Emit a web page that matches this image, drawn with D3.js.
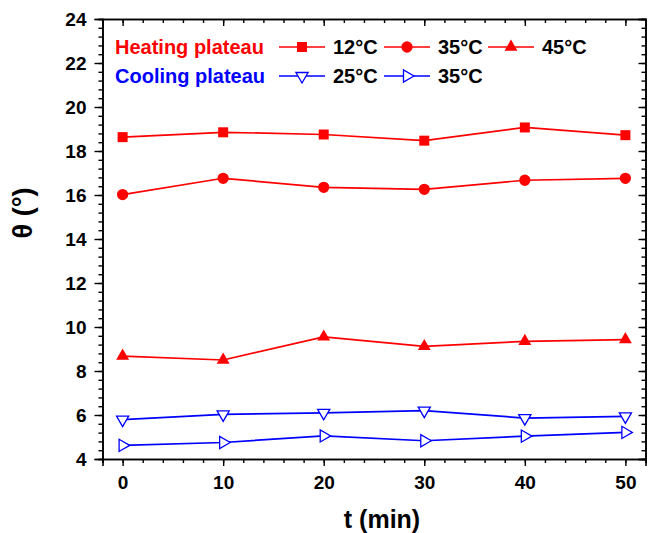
<!DOCTYPE html>
<html><head><meta charset="utf-8">
<script src="https://cdn.jsdelivr.net/npm/d3@7"></script>
<style>body{margin:0;background:#fff}svg{display:block}text{font-family:Arial,"Liberation Sans",sans-serif;font-weight:bold}</style>
</head><body><svg id="c" width="648" height="533"></svg>
<script>
const times = [0, 10, 20, 30, 40, 50];
const heat12 = [18.63, 18.85, 18.75, 18.47, 19.07, 18.72];
const heat35 = [16.02, 16.76, 16.35, 16.26, 16.67, 16.76];
const heat45 = [8.68, 8.5, 9.55, 9.12, 9.35, 9.43];
const cool25 = [5.79, 6.03, 6.1, 6.2, 5.86, 5.94];
const cool35 = [4.62, 4.75, 5.05, 4.83, 5.04, 5.21];
const xTicks = [0, 10, 20, 30, 40, 50];
const yTicks = [4, 6, 8, 10, 12, 14, 16, 18, 20, 22, 24];
const legendLabels = ["12°C", "35°C", "45°C", "25°C", "35°C"];

const RED = "#ff0000", BLUE = "#0000ff";
const svg = d3.select("#c");
const L = 102.5, R = 645.5, T = 19, B = 459;
const x = d3.scaleLinear().domain([-2, 52]).range([L, R]);
const y = d3.scaleLinear().domain([4, 24]).range([B, T]);

const series = [
  {vals: heat12, color: RED, sym: d3.symbolSquare, size: 100, rot: 0, fill: true},
  {vals: heat35, color: RED, sym: d3.symbolCircle, size: 100, rot: 0, fill: true},
  {vals: heat45, color: RED, sym: d3.symbolTriangle, size: 72, rot: 0, fill: true},
  {vals: cool25, color: BLUE, sym: d3.symbolTriangle, size: 64, rot: 180, fill: false},
  {vals: cool35, color: BLUE, sym: d3.symbolTriangle, size: 64, rot: 90, fill: false}
];

// axes
const minorX = d3.range(-2, 53, 2);
const minorY = d3.range(4, 24.01, 0.4).map(v => +v.toFixed(1));
const gx = svg.append("g").attr("transform", `translate(0,${B})`)
  .call(d3.axisBottom(x).tickValues(minorX).tickSize(4).tickFormat(""));
const gx2 = svg.append("g").attr("transform", `translate(0,${B})`)
  .call(d3.axisBottom(x).tickValues(xTicks).tickSize(7).tickPadding(10).tickFormat(d3.format("d")));
const gxt = svg.append("g").attr("transform", `translate(0,${T})`)
  .call(d3.axisTop(x).tickValues(minorX).tickSize(-4).tickFormat(""));
const gxt2 = svg.append("g").attr("transform", `translate(0,${T})`)
  .call(d3.axisTop(x).tickValues(xTicks).tickSize(-7).tickFormat(""));
const gy = svg.append("g").attr("transform", `translate(${L},0)`)
  .call(d3.axisLeft(y).tickValues(minorY).tickSize(4).tickFormat(""));
const gy2 = svg.append("g").attr("transform", `translate(${L},0)`)
  .call(d3.axisLeft(y).tickValues(yTicks).tickSize(8).tickPadding(8).tickFormat(d3.format("d")));
const gyr = svg.append("g").attr("transform", `translate(${R},0)`)
  .call(d3.axisRight(y).tickValues(minorY).tickSize(-4).tickFormat(""));
const gyr2 = svg.append("g").attr("transform", `translate(${R},0)`)
  .call(d3.axisRight(y).tickValues(yTicks).tickSize(-7).tickFormat(""));
[gx, gx2, gxt, gxt2, gy, gy2, gyr, gyr2].forEach(g => {
  g.selectAll(".domain").attr("stroke", "#000").attr("stroke-width", 1.6);
  g.selectAll(".tick line").attr("stroke", "#000").attr("stroke-width", 1.4);
  g.selectAll("text").attr("font-size", 19).attr("font-weight", "bold").attr("fill", "#000")
    .attr("font-family", "Arial, 'Liberation Sans', sans-serif");
});
gy2.selectAll("text").attr("dy", "0.36em");

// axis titles
svg.append("text").attr("x", 382).attr("y", 528).attr("text-anchor", "middle")
  .attr("font-size", 25).text("t (min)");
svg.append("text").attr("transform", "translate(32,213) rotate(-90)").attr("text-anchor", "middle")
  .attr("font-size", 27).text("θ (°)");

// series
const line = d3.line().x((d, i) => x(times[i])).y(d => y(d));
series.forEach(s => {
  svg.append("path").attr("d", line(s.vals)).attr("fill", "none")
    .attr("stroke", s.color).attr("stroke-width", 1.7);
  svg.selectAll(null).data(s.vals).enter().append("path")
    .attr("d", d3.symbol().type(s.sym).size(s.size))
    .attr("transform", (d, i) => `translate(${x(times[i])},${y(d)}) rotate(${s.rot})`)
    .attr("fill", s.fill ? s.color : "#fff").attr("stroke", s.color)
    .attr("stroke-width", s.fill ? 0 : 1.3);
});

// legend
svg.append("text").attr("x", 115).attr("y", 54).attr("fill", RED).attr("font-size", 20).text("Heating plateau");
svg.append("text").attr("x", 115).attr("y", 83).attr("fill", BLUE).attr("font-size", 20).text("Cooling plateau");
const legPos = [
  {s: 0, x0: 279, row: 0}, {s: 1, x0: 384, row: 0}, {s: 2, x0: 488, row: 0},
  {s: 3, x0: 279, row: 1}, {s: 4, x0: 384, row: 1}
];
legPos.forEach((p, k) => {
  const s = series[p.s];
  const cy = p.row === 0 ? 47 : 76;
  svg.append("line").attr("x1", p.x0).attr("x2", p.x0 + 46).attr("y1", cy).attr("y2", cy)
    .attr("stroke", s.color).attr("stroke-width", 1.7);
  svg.append("path").attr("d", d3.symbol().type(s.sym).size(s.size))
    .attr("transform", `translate(${p.x0 + 23},${cy}) rotate(${s.rot})`)
    .attr("fill", s.fill ? s.color : "#fff").attr("stroke", s.color).attr("stroke-width", s.fill ? 0 : 1.3);
  svg.append("text").attr("x", p.x0 + 54).attr("y", cy + 7).attr("fill", "#000").attr("font-size", 20)
    .text(legendLabels[k]);
});
</script></body></html>
